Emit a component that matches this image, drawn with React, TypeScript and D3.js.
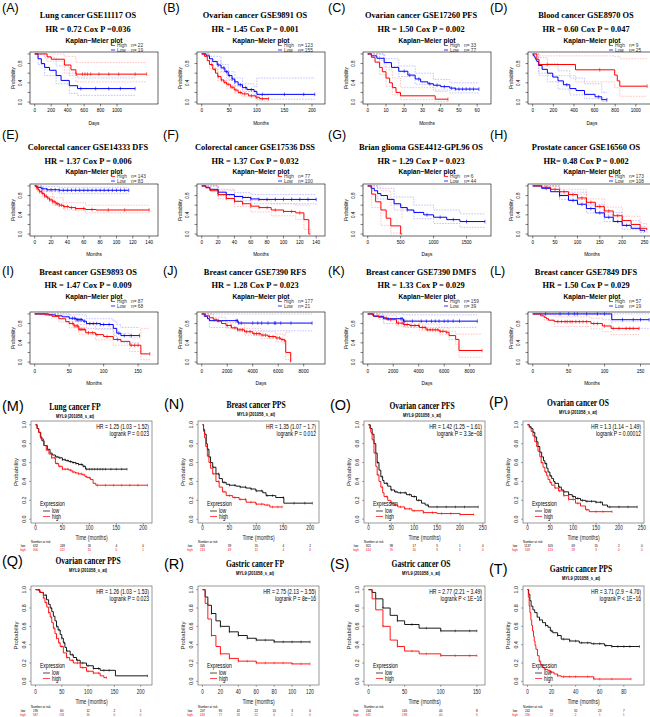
import React from 'react';
import * as d3 from 'd3';

type Pt = [number, number];
type Band = [number, number, number];

// ---------- top panels A-L (red = High, blue = Low) ----------
const topTags = ['(A)', '(B)', '(C)', '(D)', '(E)', '(F)', '(G)', '(H)', '(I)', '(J)', '(K)', '(L)'];
const topTitles = [
  'Lung cancer GSE11117  OS', 'Ovarian cancer GSE9891  OS', 'Ovarian cancer GSE17260  PFS', 'Blood cancer GSE8970 OS',
  'Colorectal cancer GSE14333 DFS', 'Colorectal cancer GSE17536 DSS', 'Brian glioma GSE4412-GPL96 OS', 'Prostate cancer GSE16560 OS',
  'Breast cancer GSE9893 OS', 'Breast cancer GSE7390 RFS', 'Breast cancer GSE7390 DMFS', 'Breast cancer GSE7849 DFS',
];
const topStats = [
  'HR = 0.72  Cox P =0.036', 'HR = 1.45  Cox P = 0.001', 'HR = 1.50  Cox P = 0.002', 'HR = 0.60  Cox P = 0.047',
  'HR = 1.37   Cox P = 0.006', 'HR = 1.37  Cox P = 0.032', 'HR = 1.29  Cox P = 0.023', 'HR= 0.48  Cox P = 0.002',
  'HR = 1.47  Cox P = 0.009', 'HR = 1.28  Cox P = 0.023', 'HR = 1.33  Cox P = 0.029', 'HR = 1.50  Cox P = 0.029',
];
const topHighN = [22, 123, 33, 9, 143, 77, 6, 173, 87, 177, 159, 57];
const topLowN = [19, 155, 77, 25, 83, 100, 44, 108, 68, 21, 39, 19];
const topUnits = ['Days', 'Months', 'Months', 'Days', 'Months', 'Months', 'Days', 'Months', 'Months', 'Days', 'Days', 'Months'];
const topXMax = [1440, 215, 65, 1150, 145, 145, 1800, 265, 172, 9300, 9300, 165];
const topTicks = [
  [0, 200, 400, 600, 800, 1000], [0, 50, 100, 150, 200], [0, 10, 20, 30, 40, 50, 60], [0, 200, 400, 600, 800, 1000],
  [0, 20, 40, 60, 80, 100, 120, 140], [0, 20, 40, 60, 80, 100, 120, 140], [0, 500, 1000, 1500], [0, 50, 100, 150, 200, 250],
  [0, 50, 100, 150], [0, 2000, 4000, 6000, 8000], [0, 2000, 4000, 6000, 8000], [0, 50, 100, 150],
];

const highA: Pt[] = [[0, 1], [150, 0.94], [200, 0.89], [360, 0.77], [440, 0.67], [500, 0.58], [1360, 0.58]];
const lowA: Pt[] = [[0, 1], [40, 0.9], [80, 0.8], [120, 0.72], [180, 0.66], [260, 0.55], [320, 0.45], [420, 0.34], [520, 0.28], [1220, 0.28]];
const highB: Pt[] = [[0, 1], [5, 0.95], [10, 0.86], [14, 0.78], [20, 0.68], [25, 0.6], [29, 0.53], [35, 0.46], [40, 0.41], [45, 0.37], [52, 0.31], [59, 0.25], [66, 0.2], [73, 0.17], [85, 0.13], [98, 0.1], [105, 0.07], [121, 0.07]];
const lowB: Pt[] = [[0, 1], [8, 0.96], [14, 0.9], [20, 0.84], [28, 0.77], [35, 0.71], [42, 0.63], [48, 0.55], [55, 0.48], [60, 0.42], [66, 0.36], [74, 0.3], [82, 0.26], [95, 0.22], [100, 0.16], [205, 0.16]];
const highC: Pt[] = [[0, 1], [2, 0.93], [4, 0.83], [6.5, 0.72], [8, 0.63], [10, 0.5], [12, 0.4], [13.5, 0.3], [15.5, 0.2], [18, 0.13], [37, 0.06], [44, 0.06]];
const lowC: Pt[] = [[0, 1], [2, 0.96], [5, 0.91], [9, 0.82], [13, 0.72], [17, 0.64], [22, 0.56], [26, 0.48], [29, 0.42], [33, 0.38], [36, 0.35], [40, 0.32], [45, 0.29], [48, 0.27], [61, 0.27]];
const highD: Pt[] = [[0, 1], [40, 0.89], [60, 0.78], [415, 0.67], [795, 0.56], [820, 0.44], [845, 0.33], [1110, 0.33]];
const lowD: Pt[] = [[0, 1], [5, 0.96], [20, 0.92], [30, 0.88], [40, 0.84], [57, 0.76], [91, 0.68], [142, 0.6], [194, 0.52], [245, 0.44], [297, 0.36], [360, 0.28], [420, 0.24], [502, 0.16], [605, 0.11], [670, 0.05], [720, 0.05]];
const highE: Pt[] = [[0, 1], [2, 0.96], [4, 0.92], [6, 0.88], [9, 0.84], [12, 0.79], [15, 0.75], [18, 0.71], [22, 0.67], [26, 0.63], [30, 0.6], [35, 0.57], [42, 0.55], [50, 0.53], [62, 0.51], [75, 0.5], [140, 0.5]];
const lowE: Pt[] = [[0, 1], [3, 0.97], [8, 0.94], [15, 0.92], [30, 0.91], [115, 0.91]];
const highF: Pt[] = [[0, 1], [5, 0.96], [10, 0.9], [20, 0.82], [30, 0.74], [40, 0.68], [50, 0.63], [60, 0.58], [70, 0.55], [85, 0.5], [100, 0.47], [115, 0.44], [125, 0.3], [131, 0], [133, 0]];
const lowF: Pt[] = [[0, 1], [5, 0.97], [10, 0.93], [20, 0.87], [30, 0.82], [40, 0.78], [50, 0.76], [60, 0.73], [70, 0.72], [140, 0.72]];
const highG: Pt[] = [[0, 1], [60, 0.83], [120, 0.67], [200, 0.5], [280, 0.33], [350, 0.17], [500, 0], [520, 0]];
const lowG: Pt[] = [[0, 1], [50, 0.95], [100, 0.9], [150, 0.84], [200, 0.8], [300, 0.72], [400, 0.63], [500, 0.55], [600, 0.5], [700, 0.45], [850, 0.4], [1000, 0.35], [1200, 0.3], [1400, 0.26], [1780, 0.26]];
const highH: Pt[] = [[0, 1], [20, 0.97], [40, 0.93], [60, 0.88], [80, 0.82], [100, 0.75], [120, 0.66], [140, 0.57], [160, 0.48], [180, 0.38], [200, 0.28], [220, 0.2], [240, 0.12], [255, 0.08]];
const lowH: Pt[] = [[0, 1], [20, 0.95], [40, 0.88], [60, 0.8], [80, 0.7], [100, 0.62], [120, 0.53], [140, 0.44], [160, 0.35], [180, 0.26], [200, 0.18], [220, 0.12], [240, 0.08], [250, 0.05]];
const highI: Pt[] = [[0, 1], [15, 0.98], [25, 0.95], [35, 0.9], [45, 0.84], [50, 0.8], [57, 0.75], [64, 0.68], [74, 0.61], [88, 0.57], [100, 0.53], [114, 0.47], [125, 0.43], [138, 0.35], [154, 0.17], [167, 0.17]];
const lowI: Pt[] = [[0, 1], [20, 0.98], [30, 0.96], [40, 0.94], [50, 0.91], [60, 0.88], [70, 0.85], [75, 0.8], [95, 0.78], [114, 0.7], [119, 0.6], [125, 0.55], [152, 0.55]];
const highJ: Pt[] = [[0, 1], [300, 0.96], [600, 0.92], [900, 0.89], [1200, 0.85], [1550, 0.8], [1900, 0.76], [2330, 0.71], [2800, 0.67], [3360, 0.63], [4000, 0.59], [4650, 0.56], [5200, 0.53], [5810, 0.5], [6200, 0.47], [6460, 0.45], [6590, 0.2], [6980, 0], [7000, 0]];
const lowJ: Pt[] = [[0, 1], [200, 0.95], [450, 0.9], [600, 0.86], [2850, 0.81], [8660, 0.81]];
const highK: Pt[] = [[0, 1], [400, 0.96], [850, 0.93], [1490, 0.88], [2260, 0.81], [2800, 0.78], [3290, 0.76], [4060, 0.72], [4580, 0.67], [5610, 0.64], [6120, 0.62], [6380, 0.55], [6900, 0.47], [7160, 0.24], [8970, 0.24]];
const lowK: Pt[] = [[0, 1], [450, 0.95], [1230, 0.9], [2790, 0.85], [8600, 0.85]];
const highL: Pt[] = [[0, 1], [11, 0.96], [16, 0.93], [19, 0.9], [22, 0.87], [30, 0.84], [81, 0.8], [97, 0.75], [109, 0.7], [148, 0.7]];
const lowL: Pt[] = [[0, 1], [110, 0.88], [162, 0.88]];

// censoring times
const censHigh = [
  [505, 580, 610, 640, 680, 780, 900, 1020, 1220, 1360],
  [18, 24, 30, 36, 42, 48, 55, 62, 70, 78, 90, 100, 110, 121],
  [44],
  [140, 650, 1110],
  [2, 4, 6, 8, 10, 12, 14, 16, 18, 20, 22, 24, 26, 28, 30, 33, 36, 40, 45, 50, 60, 70, 90, 110, 140],
  [20, 30, 40, 50, 60, 70, 80, 90, 100, 110, 120],
  [],
  [30, 50, 70, 80, 90, 100, 110, 120, 130, 140, 150, 160, 170, 180, 190, 200],
  [55, 57, 60, 62, 64, 66, 68, 70, 72, 78, 84, 90, 105, 120, 140, 145, 150, 167],
  [2000, 2300, 2600, 2800, 3000, 3200, 3500, 3800, 4100, 4300, 4500, 4800, 5000, 5300, 5600, 5900, 6100, 6300, 6500],
  [1800, 2400, 2700, 2900, 3100, 3400, 3700, 4000, 4300, 4500, 4700, 4900, 5100, 5300, 5500, 5700, 5900, 6200, 8970],
  [35, 40, 45, 48, 52, 55, 60, 65, 70, 75, 85, 90, 100, 112, 120, 130, 135, 140, 148],
];
const censLow = [
  [560, 740, 900, 1040, 1220],
  [30, 40, 45, 50, 55, 60, 70, 80, 90, 110, 150, 185, 205],
  [20, 23, 28, 34, 38, 42, 46, 48, 50, 52, 54, 56, 58, 61],
  [330, 640, 720],
  [10, 15, 20, 25, 30, 35, 40, 45, 50, 55, 60, 65, 70, 75, 80, 85, 90, 95, 100, 105, 110, 115],
  [20, 30, 40, 50, 60, 70, 80, 90, 100, 110, 120, 130, 140],
  [600, 900, 1100, 1300, 1500, 1780],
  [30, 60, 90, 110, 130, 150, 170, 190, 210],
  [55, 58, 60, 62, 64, 66, 68, 72, 80, 85, 90, 95, 100, 108, 122, 130, 140, 152],
  [1300, 2700, 2800, 2900, 3100, 4000, 4400, 4700, 5200, 5700, 5800, 6200, 7000, 8660],
  [1600, 2600, 2700, 2800, 2900, 3500, 4200, 4600, 5000, 5300, 5600, 6000, 6300, 6700, 7200, 8600],
  [18, 38, 50, 58, 62, 75, 90, 100, 125, 140, 150, 162],
];

// 95% confidence bands: [time, lower, upper]
const ciHighA: Band[] = [[0, 1, 1], [150, 0.85, 1], [360, 0.6, 0.95], [500, 0.42, 0.82], [1360, 0.42, 0.82]];
const ciLowA: Band[] = [[0, 1, 1], [40, 0.78, 1], [120, 0.55, 0.92], [260, 0.38, 0.75], [420, 0.18, 0.55], [520, 0.14, 0.5], [1220, 0.14, 0.5]];
const ciHighB: Band[] = [[0, 1, 1], [14, 0.7, 0.85], [29, 0.45, 0.62], [45, 0.29, 0.45], [59, 0.18, 0.33], [73, 0.11, 0.25], [98, 0.05, 0.17], [105, 0.02, 0.14], [121, 0.02, 0.14]];
const ciLowB: Band[] = [[0, 1, 1], [14, 0.85, 0.95], [35, 0.64, 0.78], [48, 0.47, 0.63], [60, 0.34, 0.5], [74, 0.22, 0.38], [95, 0.14, 0.32], [100, 0.06, 0.5], [205, 0.06, 0.5]];
const ciHighC: Band[] = [[0, 1, 1], [6.5, 0.57, 0.87], [10, 0.33, 0.67], [13.5, 0.15, 0.5], [18, 0.05, 0.3], [37, 0.01, 0.22], [44, 0.01, 0.22]];
const ciLowC: Band[] = [[0, 1, 1], [9, 0.73, 0.9], [17, 0.53, 0.75], [26, 0.37, 0.6], [36, 0.25, 0.47], [45, 0.19, 0.4], [61, 0.19, 0.4]];
const ciHighD: Band[] = [[0, 1, 1], [60, 0.55, 0.96], [415, 0.42, 0.96], [795, 0.3, 0.95], [845, 0.12, 0.9], [1110, 0.12, 0.9]];
const ciLowD: Band[] = [[0, 1, 1], [57, 0.6, 0.92], [142, 0.42, 0.8], [245, 0.27, 0.65], [360, 0.15, 0.5], [502, 0.07, 0.38], [670, 0.01, 0.2], [720, 0.01, 0.2]];
const ciHighE: Band[] = [[0, 1, 1], [9, 0.78, 0.9], [22, 0.6, 0.75], [35, 0.5, 0.65], [62, 0.44, 0.6], [140, 0.42, 0.59]];
const ciLowE: Band[] = [[0, 1, 1], [8, 0.88, 0.99], [30, 0.84, 0.97], [115, 0.84, 0.97]];
const ciHighF: Band[] = [[0, 1, 1], [20, 0.73, 0.9], [40, 0.57, 0.79], [60, 0.46, 0.7], [85, 0.38, 0.63], [115, 0.3, 0.6], [125, 0.1, 0.6], [133, 0, 0.6]];
const ciLowF: Band[] = [[0, 1, 1], [20, 0.8, 0.93], [40, 0.69, 0.86], [60, 0.63, 0.82], [140, 0.6, 0.82]];
const ciHighG: Band[] = [[0, 1, 1], [60, 0.55, 1], [200, 0.18, 0.9], [350, 0.02, 0.6], [520, 0, 0.3]];
const ciLowG: Band[] = [[0, 1, 1], [150, 0.73, 0.95], [400, 0.5, 0.77], [700, 0.32, 0.6], [1000, 0.22, 0.5], [1400, 0.14, 0.42], [1780, 0.14, 0.42]];
const ciHighH: Band[] = [[0, 1, 1], [60, 0.83, 0.93], [120, 0.59, 0.73], [160, 0.4, 0.56], [200, 0.2, 0.37], [240, 0.06, 0.22], [255, 0.03, 0.18]];
const ciLowH: Band[] = [[0, 1, 1], [60, 0.72, 0.87], [120, 0.44, 0.62], [160, 0.26, 0.45], [200, 0.1, 0.28], [240, 0.03, 0.16], [250, 0.01, 0.13]];
const ciHighI: Band[] = [[0, 1, 1], [35, 0.83, 0.96], [50, 0.71, 0.88], [64, 0.58, 0.78], [88, 0.46, 0.68], [114, 0.35, 0.6], [138, 0.22, 0.5], [154, 0.05, 0.7], [167, 0.05, 0.7]];
const ciLowI: Band[] = [[0, 1, 1], [50, 0.84, 0.98], [75, 0.7, 0.9], [114, 0.55, 0.85], [119, 0.45, 0.78], [125, 0.4, 0.72], [152, 0.4, 0.72]];
const ciHighJ: Band[] = [[0, 1, 1], [900, 0.84, 0.93], [1900, 0.7, 0.82], [3360, 0.56, 0.7], [4650, 0.49, 0.63], [5810, 0.42, 0.58], [6460, 0.38, 0.55], [6590, 0.05, 0.62], [6980, 0, 0.62], [7000, 0, 0.62]];
const ciLowJ: Band[] = [[0, 1, 1], [600, 0.72, 1], [2850, 0.65, 1], [8660, 0.65, 1]];
const ciHighK: Band[] = [[0, 1, 1], [850, 0.89, 0.97], [2260, 0.75, 0.87], [4060, 0.66, 0.79], [5610, 0.57, 0.71], [6380, 0.47, 0.64], [6900, 0.37, 0.58], [7160, 0.1, 0.58], [8970, 0.1, 0.58]];
const ciLowK: Band[] = [[0, 1, 1], [1230, 0.8, 1], [2790, 0.72, 0.98], [8600, 0.72, 0.98]];
const ciHighL: Band[] = [[0, 1, 1], [16, 0.87, 1], [30, 0.74, 0.94], [81, 0.69, 0.91], [97, 0.63, 0.88], [109, 0.57, 0.84], [148, 0.57, 0.84]];
const ciLowL: Band[] = [[0, 1, 1], [110, 0.7, 1], [162, 0.7, 1]];

const topHigh = [highA, highB, highC, highD, highE, highF, highG, highH, highI, highJ, highK, highL];
const topLow = [lowA, lowB, lowC, lowD, lowE, lowF, lowG, lowH, lowI, lowJ, lowK, lowL];
const topCiHigh = [ciHighA, ciHighB, ciHighC, ciHighD, ciHighE, ciHighF, ciHighG, ciHighH, ciHighI, ciHighJ, ciHighK, ciHighL];
const topCiLow = [ciLowA, ciLowB, ciLowC, ciLowD, ciLowE, ciLowF, ciLowG, ciLowH, ciLowI, ciLowJ, ciLowK, ciLowL];

// ---------- bottom panels M-T (black = low, red = high) ----------
const botTags = ['(M)', '(N)', '(O)', '(P)', '(Q)', '(R)', '(S)', '(T)'];
const botTitles = ['Lung cancer  FP', 'Breast cancer  PPS', 'Ovarian cancer  PFS', 'Ovarian cancer  OS', 'Ovarian cancer  PPS', 'Gastric cancer  FP', 'Gastric cancer  OS', 'Gastric cancer  PPS'];
const botHR = ['HR = 1.25 (1.03 \u2212 1.52)', 'HR = 1.35 (1.07 \u2212 1.7)', 'HR = 1.42 (1.25 \u2212 1.61)', 'HR = 1.3 (1.14 \u2212 1.49)', 'HR = 1.26 (1.03 \u2212 1.53)', 'HR = 2.75 (2.13 \u2212 3.55)', 'HR = 2.77 (2.21 \u2212 3.49)', 'HR = 3.71 (2.9 \u2212 4.76)'];
const botP = ['logrank P = 0.023', 'logrank P = 0.012', 'logrank P = 3.3e\u221208', 'logrank P = 0.00012', 'logrank P = 0.023', 'logrank P = 8e\u221216', 'logrank P < 1E\u221216', 'logrank P < 1E\u221216'];
const botXMax = [208, 208, 245, 245, 213, 125, 155, 93];
const botTicks = [
  [0, 50, 100, 150, 200], [0, 50, 100, 150, 200], [0, 50, 100, 150, 200, 250], [0, 50, 100, 150, 200, 250],
  [0, 50, 100, 150, 200], [0, 20, 40, 60, 80, 100, 120], [0, 50, 100, 150], [0, 20, 40, 60, 80],
];
const riskLow = [
  [632, 248, 26, 4, 0], [345, 39, 15, 4, 2], [821, 98, 17, 5, 1, 0], [1137, 305, 69, 15, 2, 0],
  [195, 60, 12, 2, 1], [207, 85, 42, 22, 10, 3, 0], [244, 145, 40, 8], [242, 84, 32, 23, 7],
];
const riskHigh = [
  [300, 122, 15, 5, 1], [213, 49, 12, 4, 0], [614, 76, 16, 9, 5, 0], [519, 123, 29, 3, 0, 0],
  [587, 133, 16, 0, 0], [433, 77, 33, 12, 4, 1, 0], [631, 198, 40, 5], [256, 17, 2, 1, 1],
];

const lowM: Pt[] = [[0, 1], [3, 0.96], [6, 0.92], [9, 0.87], [12, 0.83], [16, 0.78], [22, 0.74], [27, 0.7], [31, 0.68], [37, 0.66], [43, 0.65], [50, 0.63], [56, 0.62], [62, 0.61], [68, 0.6], [75, 0.59], [80, 0.58], [88, 0.56], [93, 0.53], [170, 0.53]];
const highM: Pt[] = [[0, 1], [3, 0.96], [6, 0.92], [10, 0.85], [15, 0.78], [20, 0.73], [25, 0.69], [30, 0.65], [37, 0.59], [43, 0.56], [50, 0.53], [62, 0.52], [68, 0.5], [74, 0.49], [80, 0.48], [87, 0.47], [92, 0.45], [96, 0.44], [102, 0.42], [107, 0.38], [112, 0.36], [208, 0.36]];
const lowN: Pt[] = [[0, 1], [2, 0.95], [4, 0.9], [7, 0.8], [9, 0.74], [12, 0.66], [15, 0.6], [19, 0.55], [25, 0.48], [31, 0.43], [37, 0.39], [44, 0.37], [50, 0.36], [62, 0.35], [70, 0.34], [81, 0.33], [90, 0.32], [99, 0.3], [112, 0.28], [118, 0.25], [136, 0.23], [151, 0.17], [204, 0.17]];
const highN: Pt[] = [[0, 1], [2, 0.93], [4, 0.86], [6, 0.77], [9, 0.67], [12, 0.6], [15, 0.54], [19, 0.48], [25, 0.4], [31, 0.34], [37, 0.29], [44, 0.25], [56, 0.23], [68, 0.21], [81, 0.18], [99, 0.16], [115, 0.15], [125, 0.13], [148, 0.13]];
const lowO: Pt[] = [[0, 1], [4, 0.96], [8, 0.9], [12, 0.8], [16, 0.7], [19, 0.6], [23, 0.52], [27, 0.45], [31, 0.41], [34, 0.38], [42, 0.35], [49, 0.31], [57, 0.29], [64, 0.28], [83, 0.26], [94, 0.24], [105, 0.2], [116, 0.17], [124, 0.15], [131, 0.13], [240, 0.13]];
const highO: Pt[] = [[0, 1], [3, 0.96], [5, 0.92], [8, 0.84], [12, 0.7], [16, 0.56], [19, 0.47], [23, 0.4], [27, 0.34], [31, 0.28], [34, 0.24], [42, 0.2], [49, 0.17], [56, 0.15], [64, 0.13], [79, 0.11], [95, 0.09], [120, 0.07], [150, 0.06], [200, 0.05], [230, 0.05]];
const lowP: Pt[] = [[0, 1], [4, 0.98], [8, 0.96], [12, 0.92], [16, 0.87], [20, 0.82], [23, 0.77], [27, 0.71], [31, 0.66], [35, 0.62], [38, 0.59], [42, 0.54], [45, 0.5], [49, 0.46], [53, 0.43], [57, 0.4], [60, 0.38], [68, 0.34], [74, 0.31], [79, 0.29], [90, 0.26], [98, 0.24], [105, 0.22], [116, 0.2], [127, 0.19], [149, 0.18], [164, 0.15], [175, 0.13], [240, 0.13]];
const highP: Pt[] = [[0, 1], [4, 0.97], [8, 0.93], [12, 0.88], [16, 0.82], [20, 0.77], [23, 0.72], [27, 0.66], [30, 0.6], [34, 0.55], [38, 0.5], [42, 0.46], [45, 0.42], [49, 0.39], [53, 0.36], [60, 0.33], [68, 0.3], [79, 0.25], [90, 0.21], [105, 0.17], [116, 0.14], [127, 0.1], [135, 0.08], [185, 0.08]];
const lowQ: Pt[] = [[0, 1], [8, 0.97], [15, 0.94], [21, 0.89], [25, 0.84], [28, 0.8], [31, 0.76], [34, 0.71], [37, 0.66], [40, 0.6], [43, 0.56], [47, 0.51], [50, 0.47], [53, 0.42], [56, 0.37], [59, 0.33], [66, 0.29], [72, 0.26], [78, 0.23], [85, 0.2], [97, 0.17], [110, 0.14], [123, 0.12], [152, 0.06], [213, 0.06]];
const highQ: Pt[] = [[0, 1], [5, 0.99], [9, 0.97], [15, 0.91], [18, 0.86], [21.5, 0.81], [25, 0.75], [28, 0.7], [31, 0.64], [34, 0.58], [37, 0.52], [40, 0.47], [44, 0.42], [47, 0.38], [53, 0.31], [59, 0.26], [65, 0.23], [72, 0.2], [85, 0.15], [97, 0.11], [110, 0.09], [123, 0.06], [130, 0.04], [135, 0.04]];
const lowR: Pt[] = [[0, 1], [3, 0.92], [6, 0.83], [10, 0.74], [15, 0.66], [20, 0.6], [30, 0.54], [40, 0.5], [50, 0.47], [60, 0.45], [80, 0.43], [120, 0.43]];
const highR: Pt[] = [[0, 1], [3, 0.85], [6, 0.68], [10, 0.5], [15, 0.38], [20, 0.3], [30, 0.25], [40, 0.22], [60, 0.2], [100, 0.19], [120, 0.19]];
const lowS: Pt[] = [[0, 1], [5, 0.97], [10, 0.9], [20, 0.8], [30, 0.72], [40, 0.66], [50, 0.62], [70, 0.58], [100, 0.55], [150, 0.55]];
const highS: Pt[] = [[0, 1], [5, 0.9], [10, 0.78], [20, 0.6], [30, 0.45], [40, 0.38], [50, 0.33], [70, 0.3], [100, 0.28], [150, 0.28]];
const lowT: Pt[] = [[0, 1], [1, 0.95], [2, 0.88], [3, 0.82], [4.5, 0.78], [6, 0.75], [8, 0.7], [10, 0.67], [12.5, 0.64], [15, 0.61], [17, 0.59], [19, 0.55], [21, 0.53], [25, 0.5], [28, 0.46], [35, 0.44], [43, 0.42], [53, 0.41], [64, 0.39], [70, 0.38], [93, 0.38]];
const highT: Pt[] = [[0, 1], [0.7, 0.92], [1.4, 0.82], [2, 0.75], [2.8, 0.67], [3.5, 0.61], [4.2, 0.55], [5, 0.49], [5.6, 0.44], [6.3, 0.39], [7, 0.35], [8.3, 0.28], [9.7, 0.22], [11, 0.18], [12.5, 0.15], [14, 0.13], [16.7, 0.12], [19, 0.1], [22, 0.08], [25, 0.06], [28, 0.05], [55, 0.025], [86, 0.025]];

const botLow = [lowM, lowN, lowO, lowP, lowQ, lowR, lowS, lowT];
const botHigh = [highM, highN, highO, highP, highQ, highR, highS, highT];
const botCensLow = [
  [40, 45, 50, 55, 60, 65, 70, 75, 80, 85, 90, 95, 100, 105, 110, 115, 120, 125, 130, 140, 150, 160, 170],
  [10, 20, 30, 40, 50, 60, 70, 80, 90, 100, 110, 120, 130, 150, 170, 190, 204],
  [20, 30, 40, 50, 60, 70, 80, 90, 100, 110, 130, 150, 170, 190, 210, 240],
  [40, 50, 60, 70, 80, 90, 100, 110, 120, 130, 140, 150, 160, 180, 200, 220, 240],
  [20, 30, 40, 45, 50, 55, 60, 70, 80, 90, 100, 110, 120, 130, 140, 213],
  [10, 20, 30, 40, 50, 60, 70, 80, 90, 100, 110, 120],
  [20, 40, 60, 80, 100, 120, 140, 150],
  [10, 15, 20, 25, 30, 35, 40, 45, 50, 55, 60, 65, 70, 75, 80, 85, 93],
];
const botCensHigh = [
  [30, 35, 40, 45, 50, 55, 60, 65, 70, 75, 80, 85, 90, 95, 100, 115, 130, 145, 160, 175, 190, 208],
  [10, 20, 30, 40, 50, 60, 70, 80, 90, 100, 110, 120, 130, 140, 148],
  [20, 30, 40, 50, 60, 70, 80, 90, 100, 120, 140, 160, 180, 200, 230],
  [30, 40, 50, 60, 70, 80, 90, 100, 110, 130, 150, 165, 185],
  [15, 20, 25, 30, 35, 40, 45, 50, 60, 70, 80, 90, 100, 110, 120, 135],
  [10, 20, 30, 40, 50, 60, 70, 80, 90, 100, 110, 120],
  [20, 40, 60, 80, 100, 120, 140, 150],
  [10, 15, 20, 25, 30, 35, 40, 50, 55, 60, 70, 86],
];

// ---------- layout ----------
const FONT_SANS = 'Liberation Sans, Arial, sans-serif';
const FONT_SERIF = 'Liberation Serif, Times New Roman, serif';
const topCols = [30, 197, 363, 528];
const topTagX = [2, 163, 328, 490];
const topRows = [
  { tag: 7, title: 15, stat: 29, km: 41, top: 52, bottom: 104, tick: 110, axis: 123 },
  { tag: 134, title: 147, stat: 161, km: 172, top: 184, bottom: 236, tick: 242, axis: 254 },
  { tag: 270, title: 272, stat: 285, km: 297, top: 312, bottom: 364, tick: 371, axis: 383 },
];
const botCols = [31, 198, 364, 523];
const botTitleDx = [44, 58, 58, 55, 57, 57, 57, 58];
const botTitleDy = [0, -2, -1, -4, 0, 3, 3, 8];
const botRows = [
  { tag: 406, title: 406, sub: 415.5, top: 421, bottom: 523, tick: 528, axis: 537, nar: 541.5, low: 545, high: 549.5 },
  { tag: 561, title: 560, sub: 569.5, top: 586, bottom: 685, tick: 692, axis: 701, nar: 706.5, low: 710, high: 714.5 },
];

const survAt = (c: Pt[], t: number) => {
  let s = c[0][1];
  for (const p of c) { if (p[0] <= t) s = p[1]; else break; }
  return s;
};

function TopPanel({ i }: { i: number }) {
  const row = topRows[Math.floor(i / 4)];
  const left = topCols[i % 4];
  const w = 128;
  const xm = topXMax[i];
  const x = d3.scaleLinear().domain([-0.04 * xm, 1.04 * xm]).range([left, left + w]);
  const y = d3.scaleLinear().domain([-0.04, 1.04]).range([row.bottom, row.top]);
  const step = d3.line<Pt>().x(d => x(d[0])).y(d => y(d[1])).curve(d3.curveStepAfter);
  const band = (b: Band[], k: number) => step(b.map(d => [d[0], d[k]] as Pt)) || '';
  const cx = left + 58;
  const series = [
    { c: topLow[i], ci: topCiLow[i], cens: censLow[i], col: '#0000ff', ciCol: '#9c9cff' },
    { c: topHigh[i], ci: topCiHigh[i], cens: censHigh[i], col: '#ff0000', ciCol: '#ff9c9c' },
  ];
  return (
    <g>
      <text x={topTagX[i % 4]} y={row.tag} dy="0.36em" fontSize={12.5} fontFamily={FONT_SANS}>{topTags[i]}</text>
      <text x={cx} y={row.title} dy="0.36em" textAnchor="middle" fontSize={8.4} fontWeight="bold" fontFamily={FONT_SERIF}>{topTitles[i]}</text>
      <text x={cx} y={row.stat} dy="0.36em" textAnchor="middle" fontSize={8.4} fontWeight="bold" fontFamily={FONT_SERIF}>{topStats[i]}</text>
      <text x={left + 64} y={row.km} dy="0.36em" textAnchor="middle" fontSize={6.6} fontWeight="bold" fontFamily={FONT_SANS}>Kaplan−Meier plot</text>
      {[['High', topHighN[i], '#ff0000', 4.5], ['Low', topLowN[i], '#0000ff', 9]].map(([lab, n, col, dy]) => (
        <g key={lab as string} fontSize={4.8} fontFamily={FONT_SANS} fill="#333">
          <line x1={left + 81} x2={left + 85} y1={row.km + (dy as number)} y2={row.km + (dy as number)} stroke={col as string} strokeWidth={0.8} />
          <text x={left + 87} y={row.km + (dy as number)} dy="0.35em">{lab}</text>
          <text x={left + 101} y={row.km + (dy as number)} dy="0.35em">n= {n}</text>
        </g>
      ))}
      <rect x={left} y={row.top} width={w} height={row.bottom - row.top} fill="none" stroke="#000" strokeWidth={0.6} />
      {series.map((s, k) => (
        <g key={k}>
          <path d={band(s.ci, 1)} fill="none" stroke={s.ciCol} strokeWidth={0.6} strokeDasharray="1.6,1.2" />
          <path d={band(s.ci, 2)} fill="none" stroke={s.ciCol} strokeWidth={0.6} strokeDasharray="1.6,1.2" />
        </g>
      ))}
      {series.map((s, k) => (
        <g key={k}>
          <path d={step(s.c) || ''} fill="none" stroke={s.col} strokeWidth={1} />
          {s.cens.map((t, j) => (
            <line key={j} x1={x(t)} x2={x(t)} y1={y(survAt(s.c, t)) - 1.8} y2={y(survAt(s.c, t)) + 1.8} stroke={s.col} strokeWidth={0.6} />
          ))}
        </g>
      ))}
      {[0, 0.2, 0.4, 0.6, 0.8, 1].map(v => (
        <line key={v} x1={left - 2.5} x2={left} y1={y(v)} y2={y(v)} stroke="#000" strokeWidth={0.5} />
      ))}
      {[0, 0.4, 0.8].map(v => (
        <text key={v} transform={`translate(${left - 8},${y(v)}) rotate(-90)`} textAnchor="middle" fontSize={4.6} fontFamily={FONT_SANS}>{v.toFixed(1)}</text>
      ))}
      <text transform={`translate(${left - 15},${(row.top + row.bottom) / 2}) rotate(-90)`} textAnchor="middle" fontSize={4.6} fontFamily={FONT_SANS}>Probability</text>
      {topTicks[i].map(t => (
        <g key={t}>
          <line x1={x(t)} x2={x(t)} y1={row.bottom} y2={row.bottom + 2.5} stroke="#000" strokeWidth={0.5} />
          <text x={x(t)} y={row.tick} dy="0.35em" textAnchor="middle" fontSize={4.6} fontFamily={FONT_SANS}>{t}</text>
        </g>
      ))}
      <text x={left + w / 2} y={row.axis} dy="0.35em" textAnchor="middle" fontSize={4.8} fontFamily={FONT_SANS}>{topUnits[i]}</text>
    </g>
  );
}

function BottomPanel({ i }: { i: number }) {
  const row = botRows[Math.floor(i / 4)];
  const left = botCols[i % 4];
  const w = 121;
  const xm = botXMax[i];
  const sx = 0.72;
  const x = d3.scaleLinear().domain([-0.04 * xm, 1.04 * xm]).range([left, left + w]);
  const y = d3.scaleLinear().domain([-0.04, 1.04]).range([row.bottom, row.top]);
  const step = d3.line<Pt>().x(d => x(d[0])).y(d => y(d[1])).curve(d3.curveStepAfter);
  const cx = left + botTitleDx[i];
  const ty = botTitleDy[i];
  const tx = (px: number, py: number, extra = '') => `translate(${px},${py}) scale(${sx},1)${extra}`;
  const series = [
    { c: botLow[i], cens: botCensLow[i], col: '#000000' },
    { c: botHigh[i], cens: botCensHigh[i], col: '#ff0000' },
  ];
  return (
    <g>
      <text x={i % 4 === 0 ? 2 : left - 34} y={row.tag + ty} dy="0.36em" fontSize={14.5} fontFamily={FONT_SANS}>{botTags[i]}</text>
      <text transform={tx(cx, row.title + ty)} dy="0.36em" textAnchor="middle" fontSize={10.5} fontWeight="bold" fontFamily={FONT_SERIF}>{botTitles[i]}</text>
      <text transform={tx(cx, row.sub + ty)} dy="0.36em" textAnchor="middle" fontSize={5.6} fontWeight="bold" fontFamily={FONT_SANS}>MYL9 (201058_s_at)</text>
      <rect x={left} y={row.top} width={w} height={row.bottom - row.top} fill="none" stroke="#555" strokeWidth={0.6} />
      <text transform={tx(left + w - 3, row.top + 5)} dy="0.36em" textAnchor="end" fontSize={7} fontFamily={FONT_SANS}>{botHR[i]}</text>
      <text transform={tx(left + w - 3, row.top + 12.5)} dy="0.36em" textAnchor="end" fontSize={7} fontFamily={FONT_SANS}>{botP[i]}</text>
      {series.map((s, k) => (
        <g key={k}>
          <path d={step(s.c) || ''} fill="none" stroke={s.col} strokeWidth={0.9} />
          {s.cens.map((t, j) => (
            <line key={j} x1={x(t)} x2={x(t)} y1={y(survAt(s.c, t)) - 1.3} y2={y(survAt(s.c, t)) + 1.3} stroke={s.col} strokeWidth={0.5} />
          ))}
        </g>
      ))}
      <text transform={tx(left + 9, row.bottom - 20)} dy="0.36em" fontSize={7} fontFamily={FONT_SANS}>Expression</text>
      <line x1={left + 12} x2={left + 19} y1={row.bottom - 12} y2={row.bottom - 12} stroke="#000" strokeWidth={0.7} />
      <text transform={tx(left + 21, row.bottom - 12)} dy="0.36em" fontSize={6.6} fontFamily={FONT_SANS}>low</text>
      <line x1={left + 12} x2={left + 19} y1={row.bottom - 6.5} y2={row.bottom - 6.5} stroke="#ff0000" strokeWidth={0.7} />
      <text transform={tx(left + 21, row.bottom - 6.5)} dy="0.36em" fontSize={6.6} fontFamily={FONT_SANS}>high</text>
      {[0, 0.2, 0.4, 0.6, 0.8, 1].map(v => (
        <g key={v}>
          <line x1={left - 2} x2={left} y1={y(v)} y2={y(v)} stroke="#555" strokeWidth={0.5} />
          <text transform={`translate(${left - 5},${y(v)}) rotate(-90)`} textAnchor="middle" fontSize={5.4} fontFamily={FONT_SANS} fill="#222">{v.toFixed(1)}</text>
        </g>
      ))}
      <text transform={`translate(${left - 13},${(row.top + row.bottom) / 2}) rotate(-90)`} textAnchor="middle" fontSize={6} fontFamily={FONT_SANS} fill="#222">Probability</text>
      {botTicks[i].map((t, j) => (
        <g key={t}>
          <line x1={x(t)} x2={x(t)} y1={row.bottom} y2={row.bottom + 2} stroke="#555" strokeWidth={0.5} />
          <text transform={tx(x(t), row.tick)} dy="0.36em" textAnchor="middle" fontSize={6.6} fontFamily={FONT_SANS} fill="#222">{t}</text>
          <text transform={tx(x(t), row.low)} dy="0.36em" textAnchor="middle" fontSize={4.2} fontFamily={FONT_SANS}>{riskLow[i][j]}</text>
          <text transform={tx(x(t), row.high)} dy="0.36em" textAnchor="middle" fontSize={4.2} fontFamily={FONT_SANS} fill="#ff0000">{riskHigh[i][j]}</text>
        </g>
      ))}
      <text transform={tx(left + w / 2, row.axis)} dy="0.36em" textAnchor="middle" fontSize={7} fontFamily={FONT_SANS} fill="#222">Time (months)</text>
      <text transform={tx(left, row.nar)} dy="0.36em" fontSize={4.2} fontFamily={FONT_SANS}>Number at risk</text>
      <text transform={tx(left - 8, row.low)} dy="0.36em" textAnchor="middle" fontSize={4.2} fontFamily={FONT_SANS}>low</text>
      <text transform={tx(left - 8, row.high)} dy="0.36em" textAnchor="middle" fontSize={4.2} fontFamily={FONT_SANS} fill="#ff0000">high</text>
    </g>
  );
}

export default function App() {
  return (
    <svg width={650} height={717} style={{ position: 'absolute', left: 0, top: 0, background: '#fff' }}>
      <rect width={650} height={717} fill="#fff" />
      {topTags.map((_, i) => <TopPanel key={i} i={i} />)}
      {botTags.map((_, i) => <BottomPanel key={i} i={i} />)}
    </svg>
  );
}
